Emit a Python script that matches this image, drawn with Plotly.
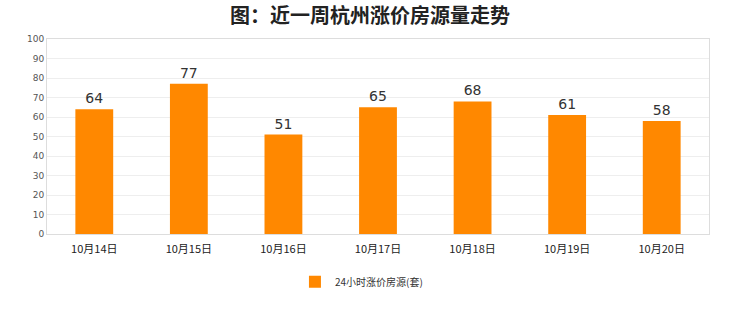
import plotly.graph_objects as go

categories = ["10月14日", "10月15日", "10月16日", "10月17日", "10月18日", "10月19日", "10月20日"]
values = [64, 77, 51, 65, 68, 61, 58]
series_name = "24小时涨价房源(套)"
y_ticks = [0, 10, 20, 30, 40, 50, 60, 70, 80, 90, 100]

fig = go.Figure()
fig.add_trace(go.Bar(
    x=categories, y=values, name=series_name,
    marker=dict(color="#FF8800", line=dict(width=0)),
    width=0.4,
    text=values, textposition="outside",
    textfont=dict(size=14, color="#333333", family="DejaVu Sans"),
    cliponaxis=False,
))
fig.update_layout(
    width=740, height=312,
    margin=dict(l=47, r=31, t=39, b=78),
    paper_bgcolor="white", plot_bgcolor="white",
    title=dict(text="<b>图：近一周杭州涨价房源量走势</b>", x=0.5, xanchor="center", y=0.95, yanchor="middle",
               font=dict(size=20, color="#222222", family="Noto Sans CJK SC")),
    showlegend=True,
    legend=dict(orientation="h", x=0.475, xanchor="center", y=-0.245, yanchor="middle",
                itemwidth=30,
                font=dict(size=10, color="#333333", family="Noto Sans CJK SC")),
    bargap=0.6,
)
fig.update_xaxes(showline=True, linecolor="#DDDDDD", mirror=True, ticks="outside",
                 ticklen=5, tickcolor="rgba(0,0,0,0)",
                 tickfont=dict(size=11, color="#222222", family="Noto Sans CJK SC"))
fig.update_yaxes(range=[0, 100], tickvals=y_ticks, showgrid=True, gridcolor="#EEEEEE",
                 showline=True, linecolor="#DDDDDD", mirror=True, zeroline=False,
                 tickfont=dict(size=9, color="#555555", family="DejaVu Sans"))
fig.write_html("out.html")
